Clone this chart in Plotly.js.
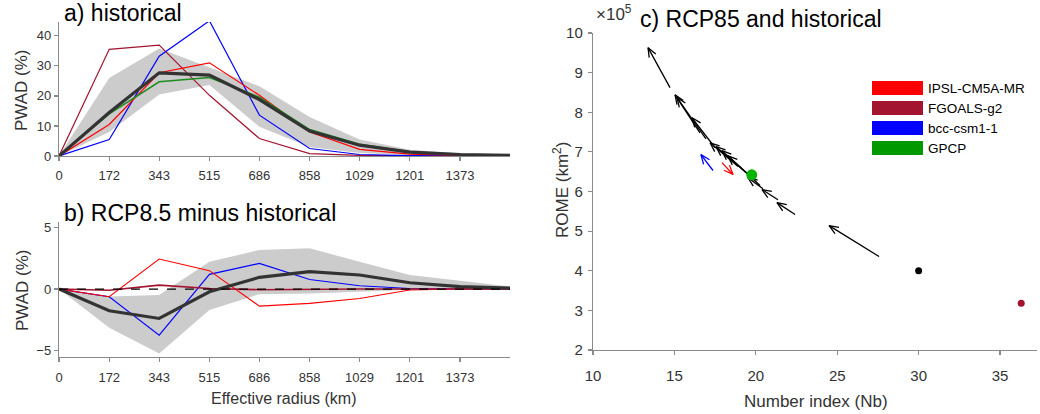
<!DOCTYPE html>
<html>
<head>
<meta charset="utf-8">
<script src="https://cdn.plot.ly/plotly-3.0.1.min.js"></script>
<style>html,body{margin:0;padding:0;background:#fff}#chart{width:1040px;height:414px}</style>
</head>
<body>
<div id="chart"></div>
<script>
// ---------- data ----------
const radius = [0, 172, 343, 515, 686, 858, 1029, 1201, 1373, 1544];
const radiusTicks = [0, 172, 343, 515, 686, 858, 1029, 1201, 1373];

// a) historical PWAD (%)
const histIPSL   = [0, 10.5, 27.7, 31.0, 20.2, 8.0, 2.2, 0.6, 0.2, 0.1];
const histFGOALS = [0, 35.5, 36.9, 20.2, 5.8, 0.8, 0.2, 0.05, 0, 0];
const histBCC    = [0, 5.5, 33.2, 45.0, 13.6, 2.5, 0.5, 0.1, 0.05, 0];
const histGPCP   = [0, 14.0, 24.7, 26.1, 19.6, 8.8, 3.9, 1.4, 0.5, 0.2];
const histMean   = [0, 14.5, 27.7, 26.9, 18.8, 8.3, 3.6, 1.3, 0.5, 0.2];
const histUpper  = [0, 26.0, 35.8, 29.5, 23.2, 13.0, 5.5, 2.1, 0.9, 0.3];
const histLower  = [0, 8.0, 20.5, 23.6, 9.7, 3.0, 1.0, 0.3, 0.1, 0];

// b) RCP8.5 minus historical PWAD (%)
const diffIPSL   = [0, -0.62, 2.43, 1.49, -1.38, -1.16, -0.76, -0.08, 0, 0];
const diffFGOALS = [0, -0.1, 0.32, 0.05, -0.05, 0, 0, 0, 0, 0];
const diffBCC    = [0, -0.62, -3.73, 1.19, 2.08, 0.78, 0.27, 0.05, 0, 0];
const diffMean   = [0, -1.76, -2.38, -0.22, 0.95, 1.41, 1.14, 0.51, 0.19, 0.08];
const diffUpper  = [0, -0.6, -0.49, 2.21, 3.16, 3.30, 2.21, 1.14, 0.68, 0.2];
const diffLower  = [0, -3.14, -5.22, -1.70, -0.41, -0.35, -0.22, -0.05, 0, 0];

// c) Number index vs ROME (x1e5 km2): arrows historical -> RCP85 (other models)
const histNb   = [14.73, 16.57, 16.94, 17.49, 18.91, 19.40, 19.89, 20.26, 20.44, 21.36, 22.41, 27.57];
const histRome = [8.62, 7.48, 7.33, 7.11, 6.63, 6.48, 6.30, 6.15, 6.07, 5.79, 5.42, 4.36];
const rcpNb    = [13.38, 15.04, 15.16, 16.08, 17.19, 17.56, 17.92, 18.29, 19.52, 20.38, 21.30, 24.50];
const rcpRome  = [9.63, 8.44, 8.37, 7.86, 7.23, 7.13, 7.03, 6.90, 6.35, 6.05, 5.72, 5.14];
// highlighted models
const ipslNb = [17.92, 18.60], ipslRome = [6.73, 6.43];
const bccNb  = [17.37, 16.63], bccRome  = [6.53, 6.93];
// points
const gpcpNb = [19.75], gpcpRome = [6.42];
const meanNb = [30.0], meanRome = [4.0];
const fgoalsNb = [36.3], fgoalsRome = [3.18];

const legendNames = ['IPSL-CM5A-MR', 'FGOALS-g2', 'bcc-csm1-1', 'GPCP'];

// ---------- styles ----------
const cRed = '#ff0000', cDark = '#a2142f', cBlue = '#0000ff', cGreen = '#009a00';
const legendColors = [cRed, cDark, cBlue, cGreen];
const FONT = 'Liberation Sans, Arial, Helvetica, sans-serif';
const axisCol = '#8a8a8a', txtCol = '#333333';
const W = 1040, H = 414;

const domA_x = [59/W, 510/W], domA_y = [(H-156)/H, (H-22)/H];
const domB_x = [59/W, 510/W], domB_y = [(H-357)/H, (H-222)/H];
const domC_x = [593/W, 1037/W], domC_y = [(H-350)/H, (H-33)/H];
const rangeA_x = [0, 1544], rangeA_y = [0, 44.6];
const rangeB_y = [-5.5, 5.43];
const rangeC_x = [10, 37.27], rangeC_y = [2, 10];

function band(x, up, lo, xa, ya) {
  return {x: x.concat(x.slice().reverse()), y: up.concat(lo.slice().reverse()),
    fill: 'toself', fillcolor: '#cccccc', line: {width: 0}, mode: 'lines',
    xaxis: xa, yaxis: ya, hoverinfo: 'skip', showlegend: false};
}
function line(x, y, color, width, xa, ya) {
  return {x: x, y: y, mode: 'lines', line: {color: color, width: width},
    xaxis: xa, yaxis: ya, showlegend: false};
}

// arrows built in data space, head wings sized in pixels through the axis scale
const sx = W*(domC_x[1]-domC_x[0])/(rangeC_x[1]-rangeC_x[0]);
const sy = H*(domC_y[1]-domC_y[0])/(rangeC_y[1]-rangeC_y[0]);
function arrows(x0s, y0s, x1s, y1s, color) {
  const X = [], Y = [];
  const L = 10, ang = 22*Math.PI/180;
  for (let i = 0; i < x0s.length; i++) {
    const x0 = x0s[i], y0 = y0s[i], x1 = x1s[i], y1 = y1s[i];
    const vx = (x1-x0)*sx, vy = (y1-y0)*sy, n = Math.hypot(vx, vy);
    const ux = vx/n, uy = vy/n;
    const wing = s => {
      const c = Math.cos(s*ang), si = Math.sin(s*ang);
      const rx = ux*c - uy*si, ry = ux*si + uy*c;
      return [x1 - L*rx/sx, y1 - L*ry/sy];
    };
    const a = wing(1), b = wing(-1);
    X.push(x0, x1, null, a[0], x1, b[0], null);
    Y.push(y0, y1, null, a[1], y1, b[1], null);
  }
  return {x: X, y: Y, mode: 'lines', line: {color: color, width: 1.3},
    xaxis: 'x3', yaxis: 'y3', showlegend: false, hoverinfo: 'skip'};
}

const traces = [
  band(radius, histUpper, histLower, 'x', 'y'),
  line(radius, histFGOALS, cDark, 1.2, 'x', 'y'),
  line(radius, histBCC, cBlue, 1.2, 'x', 'y'),
  line(radius, histIPSL, cRed, 1.2, 'x', 'y'),
  line(radius, histGPCP, '#1e8c1e', 1.5, 'x', 'y'),
  line(radius, histMean, '#333333', 3.2, 'x', 'y'),

  band(radius, diffUpper, diffLower, 'x2', 'y2'),
  line(radius, diffBCC, cBlue, 1.1, 'x2', 'y2'),
  line(radius, diffIPSL, cRed, 1.1, 'x2', 'y2'),
  line(radius, diffFGOALS, cDark, 1.6, 'x2', 'y2'),
  line(radius, diffMean, '#333333', 3.2, 'x2', 'y2'),

  arrows(histNb, histRome, rcpNb, rcpRome, '#000000'),
  arrows([ipslNb[0]], [ipslRome[0]], [ipslNb[1]], [ipslRome[1]], cRed),
  arrows([bccNb[0]], [bccRome[0]], [bccNb[1]], [bccRome[1]], cBlue),
  {x: gpcpNb, y: gpcpRome, mode: 'markers', marker: {color: '#00b400', size: 11},
    xaxis: 'x3', yaxis: 'y3', showlegend: false},
  {x: meanNb, y: meanRome, mode: 'markers', marker: {color: '#000000', size: 7},
    xaxis: 'x3', yaxis: 'y3', showlegend: false},
  {x: fgoalsNb, y: fgoalsRome, mode: 'markers', marker: {color: cDark, size: 7},
    xaxis: 'x3', yaxis: 'y3', showlegend: false}
];

const axBase = {showgrid: false, zeroline: false, showline: true, linecolor: axisCol,
  linewidth: 1.2, ticks: 'outside', ticklen: 4, tickcolor: axisCol, tickwidth: 1.2,
  tickfont: {family: FONT, size: 13, color: txtCol}, fixedrange: true};

const ann = [];
function txt(text, x, y, size, opts) {
  ann.push(Object.assign({text: text, x: x/W, y: 1 - y/H, xref: 'paper', yref: 'paper',
    showarrow: false, font: {family: FONT, size: size, color: '#000'},
    xanchor: 'left', yanchor: 'middle'}, opts || {}));
}
txt('a) historical', 62, 13, 23);
txt('b) RCP8.5 minus historical', 62, 213, 23);
txt('c) RCP85 and historical', 638, 19, 23);
txt('PWAD (%)', 22, 90, 17, {textangle: -90, xanchor: 'center', font: {family: FONT, size: 17, color: txtCol}});
txt('PWAD (%)', 22, 290, 17, {textangle: -90, xanchor: 'center', font: {family: FONT, size: 17, color: txtCol}});
txt('Effective radius (km)', 284, 398, 16, {xanchor: 'center', font: {family: FONT, size: 16, color: txtCol}});
txt('Number index (Nb)', 816, 401, 17, {xanchor: 'center', font: {family: FONT, size: 17, color: txtCol}});
txt('ROME (km<sup>2</sup>)', 561, 190, 17, {textangle: -90, xanchor: 'center', font: {family: FONT, size: 17, color: txtCol}});
txt('×10<sup>5</sup>', 594, 13, 17, {font: {family: FONT, size: 17, color: txtCol}});

const shapes = [
  {type: 'line', xref: 'x2 domain', yref: 'y2', x0: 0, x1: 1, y0: 0, y1: 0,
    line: {color: '#000', width: 1.2, dash: 'dash'}}
];
// legend boxes
legendNames.forEach((name, i) => {
  const top = 81 + i*20;
  shapes.push({type: 'rect', xref: 'paper', yref: 'paper', x0: 872/W, x1: 923/W,
    y0: 1 - (top+14)/H, y1: 1 - top/H, fillcolor: legendColors[i], line: {width: 0}});
  txt(name, 926, top + 7, 13.5, {font: {family: FONT, size: 13.5, color: '#000'}});
});

const layout = {
  width: W, height: H, margin: {l: 0, r: 0, t: 0, b: 0},
  paper_bgcolor: '#fff', plot_bgcolor: '#fff', showlegend: false,
  xaxis: Object.assign({}, axBase, {domain: domA_x, range: rangeA_x, anchor: 'y',
    tickvals: radiusTicks, ticklabelstandoff: 3}),
  yaxis: Object.assign({}, axBase, {domain: domA_y, range: rangeA_y, anchor: 'x',
    tickvals: [0, 10, 20, 30, 40]}),
  xaxis2: Object.assign({}, axBase, {domain: domB_x, range: rangeA_x, anchor: 'y2',
    tickvals: radiusTicks, ticklabelstandoff: 4}),
  yaxis2: Object.assign({}, axBase, {domain: domB_y, range: rangeB_y, anchor: 'x2',
    tickvals: [-5, 0, 5]}),
  xaxis3: Object.assign({}, axBase, {domain: domC_x, range: rangeC_x, anchor: 'y3',
    tickvals: [10, 15, 20, 25, 30, 35], ticklabelstandoff: 8,
    tickfont: {family: FONT, size: 15, color: txtCol}}),
  yaxis3: Object.assign({}, axBase, {domain: domC_y, range: rangeC_y, anchor: 'x3',
    tickvals: [2, 3, 4, 5, 6, 7, 8, 9, 10], ticklabelstandoff: 2,
    tickfont: {family: FONT, size: 15, color: txtCol}}),
  annotations: ann, shapes: shapes
};

Plotly.newPlot('chart', traces, layout, {displayModeBar: false, staticPlot: true});
</script>
</body>
</html>
